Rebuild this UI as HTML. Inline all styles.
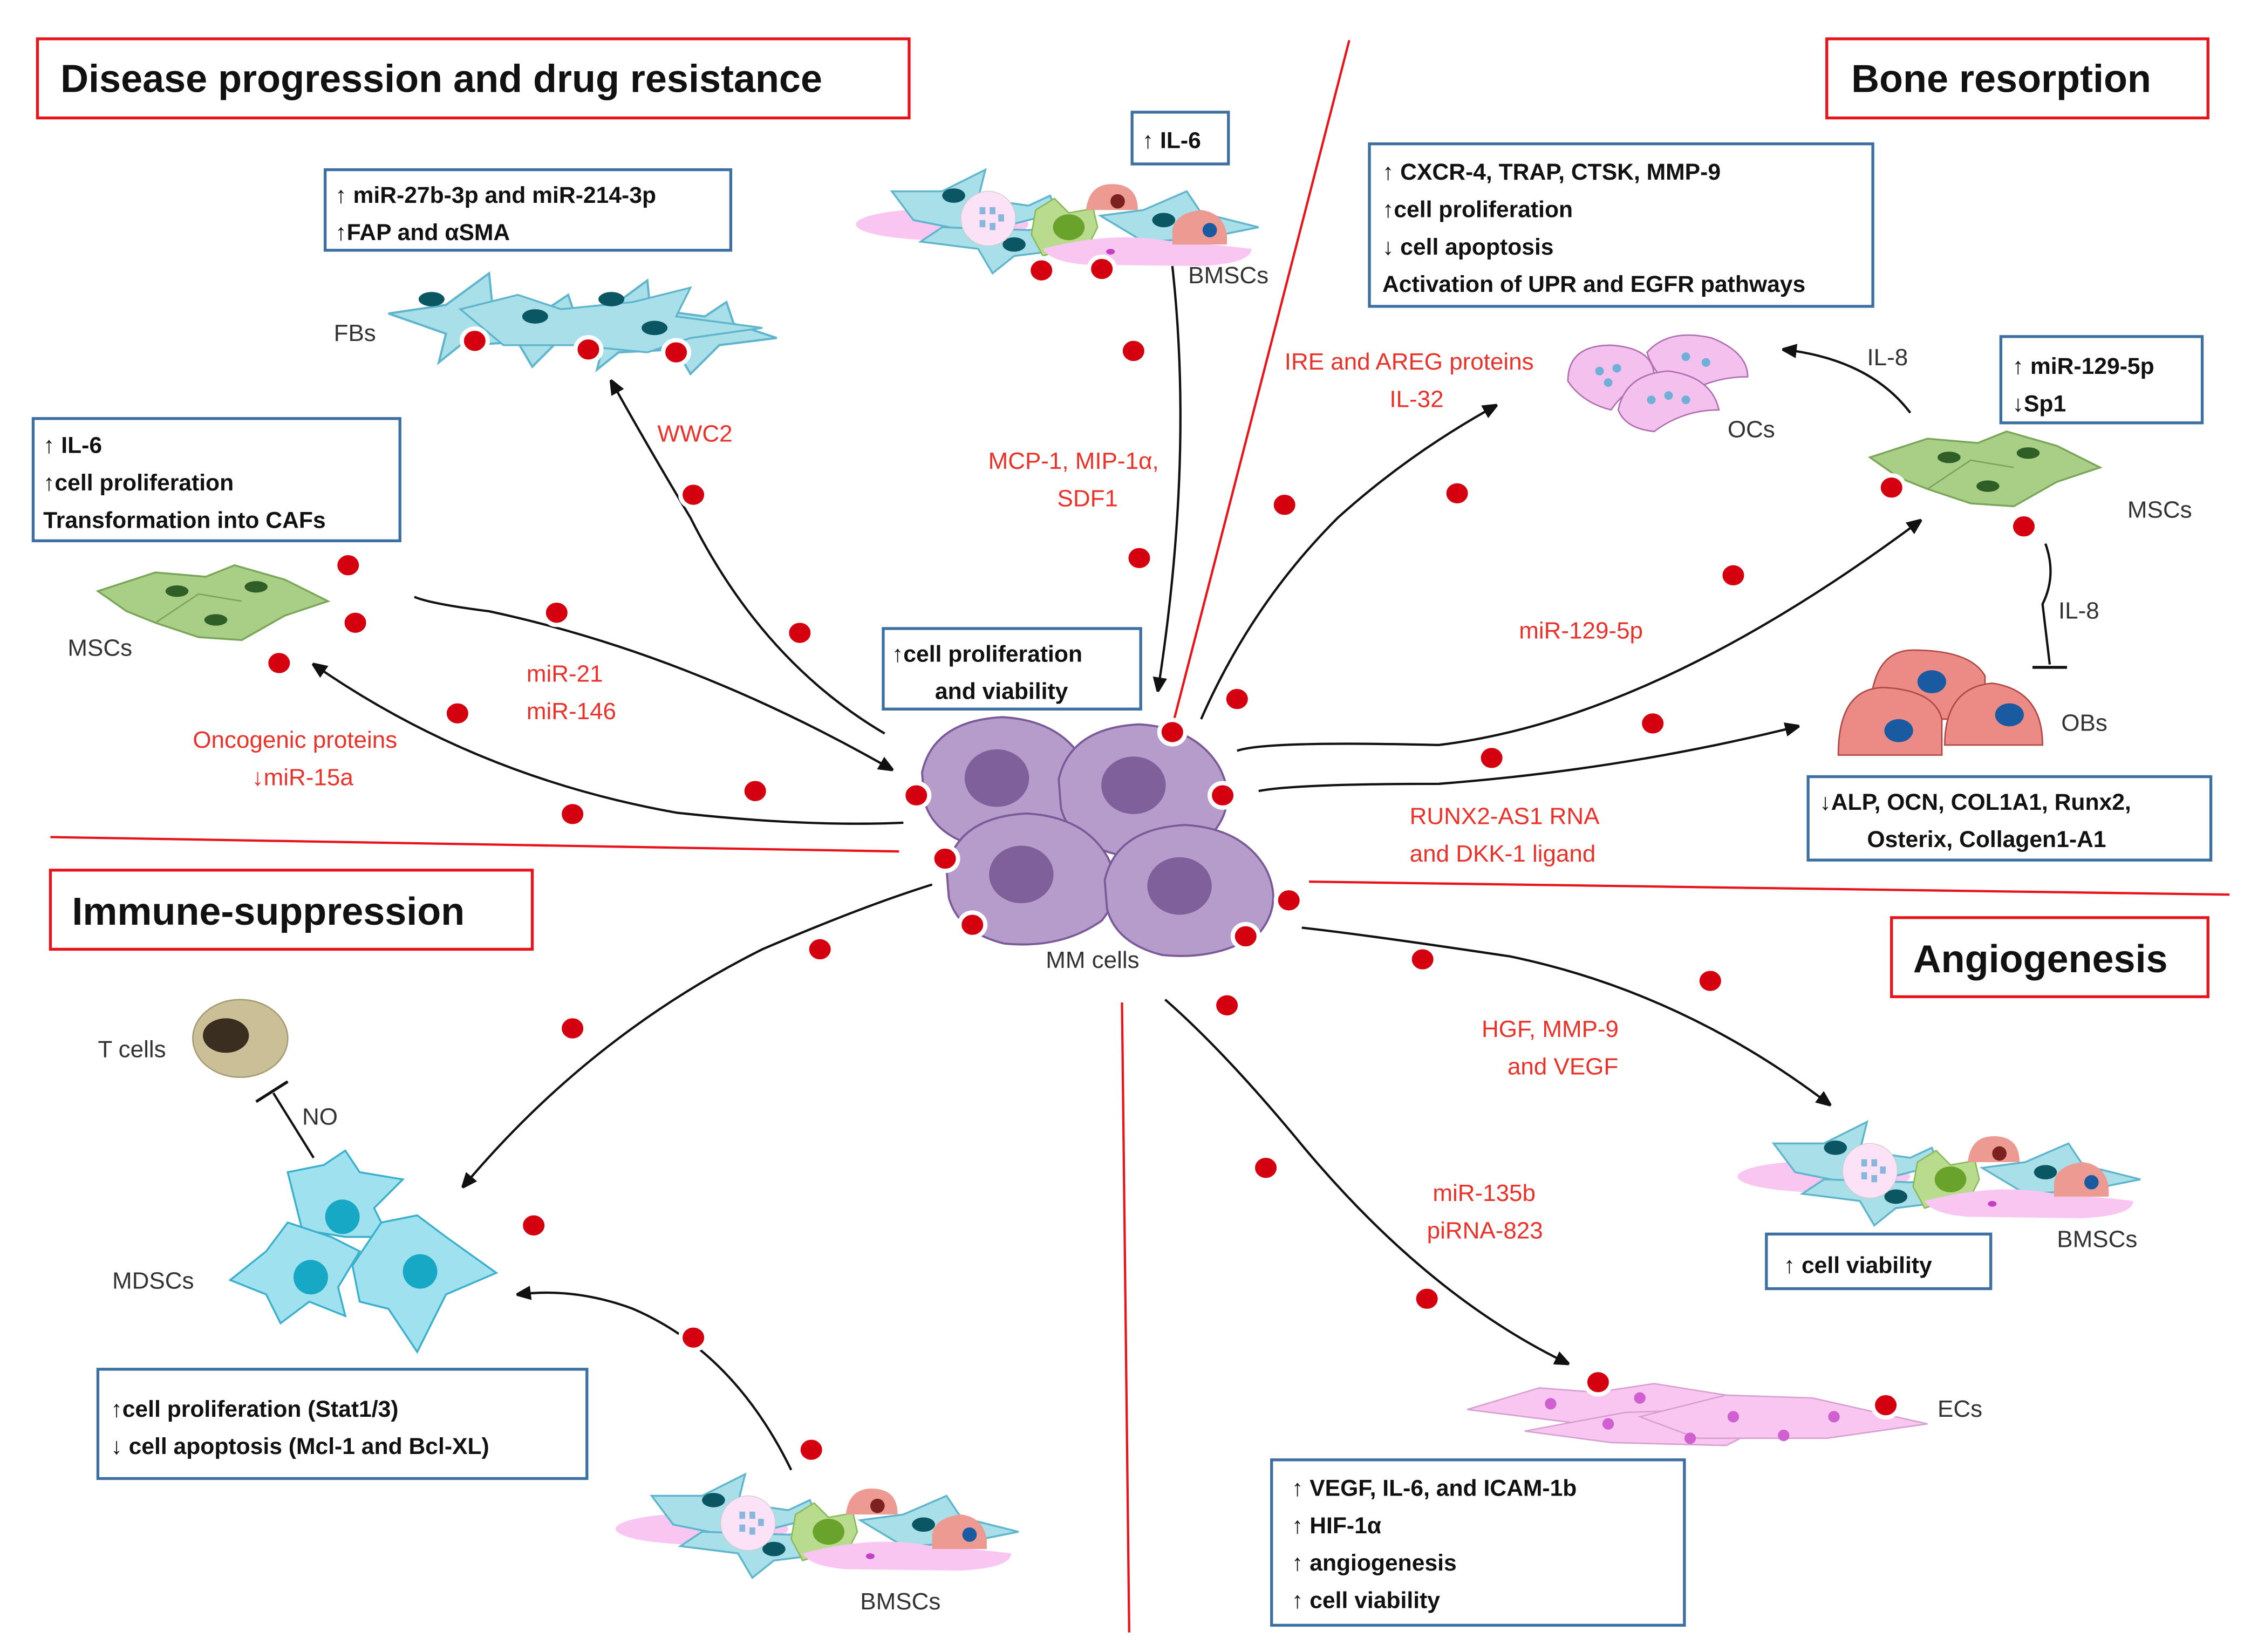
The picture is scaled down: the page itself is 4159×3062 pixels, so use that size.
<!DOCTYPE html>
<html><head><meta charset="utf-8"><style>
html,body{margin:0;padding:0;background:#fff}
svg{display:block}
text{font-family:"Liberation Sans",Arial,sans-serif}
.t{font-size:27px;font-weight:bold;fill:#111}
.b{font-size:16px;font-weight:bold;fill:#111}
.r{font-size:16.5px;fill:#e8322a}
.l{font-size:16.5px;fill:#333}
.rb{fill:#fff;stroke:#e8141c;stroke-width:2}
.bb{fill:#fff;stroke:#3d6fa3;stroke-width:2}
.ar{fill:none;stroke:#111;stroke-width:1.6;marker-end:url(#ah)}
.rl{stroke:#e8141c;stroke-width:1.6}
</style></head><body>
<svg width="4159" height="3062" viewBox="0 0 1560 1148.6" xmlns="http://www.w3.org/2000/svg">
<defs>
<marker id="ah" markerWidth="10" markerHeight="10" refX="9" refY="5" orient="auto" markerUnits="userSpaceOnUse"><path d="M0,0 L12,5 L0,10 z" fill="#111"/></marker>
<g id="dot"><ellipse rx="9" ry="8.5" fill="#d40010" stroke="#fff" stroke-width="3"/></g>
<g id="cy"><polygon points="0,28 40,22 70,0 72,20 110,25 125,15 130,30 160,40 120,45 100,65 90,48 50,50 35,62 40,42" fill="#a8dfe9" stroke="#5fb5cc" stroke-width="1.5"/></g>
<g id="bm">
<ellipse cx="60" cy="38" rx="60" ry="11" fill="#f9c6f2"/>
<polygon points="25,15 60,15 90,0 85,20 120,25 135,18 140,30 100,40 90,48 65,40 40,35" fill="#a8dfe9" stroke="#5fb5cc" stroke-width="1.3"/>
<polygon points="60,40 120,42 160,38 150,55 110,60 95,72 85,55 45,50" fill="#a8dfe9" stroke="#5fb5cc" stroke-width="1.3"/>
<polygon points="170,32 200,28 230,15 240,30 280,40 240,48 200,50" fill="#a8dfe9" stroke="#5fb5cc" stroke-width="1.3"/>
<ellipse cx="68" cy="18" rx="8" ry="5" fill="#0b5663"/>
<ellipse cx="110" cy="52" rx="8" ry="5" fill="#0b5663"/>
<ellipse cx="214" cy="35" rx="8" ry="5" fill="#0b5663"/>
<circle cx="92" cy="34" r="19" fill="#fbe2f7" stroke="#ccc" stroke-width="0.5"/>
<g fill="#89b6dc"><rect x="86" y="26" width="4" height="5"/><rect x="93" y="26" width="4" height="5"/><rect x="86" y="35" width="4" height="5"/><rect x="93" y="37" width="4" height="5"/><rect x="99" y="31" width="4" height="5"/></g>
<polygon points="125,28 138,20 148,30 165,27 168,40 162,52 145,55 130,60 122,45" fill="#b8db8e" stroke="#8aba5c" stroke-width="1"/>
<ellipse cx="148" cy="40" rx="11" ry="9" fill="#6aa32c"/>
<path d="M160,28 Q162,10 178,10 Q196,10 196,28 Z" fill="#ec9a92"/>
<circle cx="182" cy="22" r="5" fill="#7d2020"/>
<path d="M130,55 Q180,42 220,50 Q250,52 275,55 Q275,65 240,67 L160,66 Q135,64 130,55Z" fill="#f9c6f2"/>
<ellipse cx="177" cy="57" rx="3" ry="2" fill="#c33fc3"/>
<path d="M220,42 Q222,30 240,28 Q256,30 258,46 L258,52 L220,52Z" fill="#ec9a92"/>
<circle cx="246" cy="42" r="5" fill="#1a5aa0"/>
</g>
<g id="msc">
<polygon points="0,18 40,5 75,8 95,0 130,10 160,25 130,35 100,52 70,50 40,40 20,32" fill="#a9cf86" stroke="#7aa65a" stroke-width="1.3"/>
<path d="M40,40 L70,20 L100,25" fill="none" stroke="#7aa65a" stroke-width="1"/>
<ellipse cx="55" cy="18" rx="8" ry="4" fill="#2f5e26"/>
<ellipse cx="110" cy="15" rx="8" ry="4" fill="#2f5e26"/>
<ellipse cx="82" cy="38" rx="8" ry="4" fill="#2f5e26"/>
</g>
<g id="mm"><path d="M-80,-10 Q-70,-55 -10,-58 Q40,-55 60,-20 Q75,10 55,35 Q20,60 -30,55 Q-70,45 -78,15 Z" fill="#b59ccb" stroke="#7a5a99" stroke-width="1.8"/><ellipse cx="-15" cy="-5" rx="28" ry="25" fill="#80609b"/></g>
</defs>

<!-- section lines -->
<line class="rl" x1="35" y1="582" x2="625" y2="592"/>
<line class="rl" x1="938" y1="28" x2="815" y2="505"/>
<line class="rl" x1="910" y1="613" x2="1550" y2="622"/>
<line class="rl" x1="780" y1="697" x2="785" y2="1135"/>

<!-- titles -->
<rect class="rb" x="26" y="27" width="606" height="55"/><text class="t" x="42" y="64">Disease progression and drug resistance</text>
<rect class="rb" x="1270" y="27" width="265" height="55"/><text class="t" x="1287" y="64">Bone resorption</text>
<rect class="rb" x="35" y="605" width="335" height="55"/><text class="t" x="50" y="643">Immune-suppression</text>
<rect class="rb" x="1315" y="638" width="220" height="55"/><text class="t" x="1330" y="676">Angiogenesis</text>

<!-- blue boxes -->
<rect class="bb" x="226" y="118" width="282" height="56"/><text class="b" x="233" y="141">↑ miR-27b-3p and miR-214-3p</text><text class="b" x="233" y="167">↑FAP and αSMA</text>
<rect class="bb" x="787" y="78" width="67" height="36"/><text class="b" x="794" y="103">↑ IL-6</text>
<rect class="bb" x="952" y="100" width="350" height="113"/><text class="b" x="961" y="125">↑ CXCR-4, TRAP, CTSK, MMP-9</text><text class="b" x="961" y="151">↑cell proliferation</text><text class="b" x="961" y="177">↓ cell apoptosis</text><text class="b" x="961" y="203">Activation of UPR and EGFR pathways</text>
<rect class="bb" x="1391" y="234" width="140" height="60"/><text class="b" x="1399" y="260">↑ miR-129-5p</text><text class="b" x="1399" y="286">↓Sp1</text>
<rect class="bb" x="23" y="291" width="255" height="85"/><text class="b" x="30" y="315">↑ IL-6</text><text class="b" x="30" y="341">↑cell proliferation</text><text class="b" x="30" y="367">Transformation into CAFs</text>
<rect class="bb" x="614" y="437" width="179" height="56"/><text class="b" x="620" y="460">↑cell proliferation</text><text class="b" x="650" y="486">and viability</text>
<rect class="bb" x="1257" y="540" width="280" height="58"/><text class="b" x="1265" y="563">↓ALP, OCN, COL1A1, Runx2,</text><text class="b" x="1298" y="589">Osterix, Collagen1-A1</text>
<rect class="bb" x="1228" y="858" width="156" height="38"/><text class="b" x="1240" y="885">↑ cell viability</text>
<rect class="bb" x="68" y="952" width="340" height="76"/><text class="b" x="77" y="985">↑cell proliferation (Stat1/3)</text><text class="b" x="77" y="1011">↓ cell apoptosis (Mcl-1 and Bcl-XL)</text>
<rect class="bb" x="884" y="1015" width="287" height="115"/><text class="b" x="898" y="1040">↑ VEGF, IL-6, and ICAM-1b</text><text class="b" x="898" y="1066">↑ HIF-1α</text><text class="b" x="898" y="1092">↑ angiogenesis</text><text class="b" x="898" y="1118">↑ cell viability</text>

<!-- cell groups -->
<use href="#bm" x="595" y="118"/>
<use href="#bm" x="1208" y="780"/>
<use href="#bm" x="428" y="1025"/>
<!-- FBs -->
<use href="#cy" x="270" y="190"/><use href="#cy" x="380" y="195"/>
<polygon points="320,215 360,205 390,215 440,210 480,200 470,220 530,228 480,235 450,245 400,240 350,240" fill="#a8dfe9" stroke="#5fb5cc" stroke-width="1.3"/>
<ellipse cx="300" cy="208" rx="9" ry="5" fill="#0b5663"/><ellipse cx="372" cy="220" rx="9" ry="5" fill="#0b5663"/><ellipse cx="425" cy="208" rx="9" ry="5" fill="#0b5663"/><ellipse cx="455" cy="228" rx="9" ry="5" fill="#0b5663"/>
<!-- MSCs -->
<use href="#msc" x="68" y="393"/>
<use href="#msc" x="1300" y="300"/>
<!-- OCs -->
<g fill="#f4c0ee" stroke="#b070b0" stroke-width="1">
<path d="M1090,265 Q1090,240 1120,240 Q1150,242 1150,262 Q1130,270 1120,285 Q1100,280 1090,265Z"/>
<path d="M1145,245 Q1160,228 1190,235 Q1215,245 1215,262 Q1190,262 1170,275 Q1150,262 1145,245Z"/>
<path d="M1125,285 Q1130,260 1160,258 Q1190,262 1195,285 Q1170,285 1150,300 Q1130,298 1125,285Z"/>
</g>
<g fill="#6fb0d8"><circle cx="1112" cy="258" r="3"/><circle cx="1124" cy="256" r="3"/><circle cx="1118" cy="266" r="3"/><circle cx="1172" cy="248" r="3"/><circle cx="1186" cy="252" r="3"/><circle cx="1160" cy="275" r="3"/><circle cx="1172" cy="278" r="3"/><circle cx="1148" cy="278" r="3"/></g>
<!-- OBs -->
<g fill="#ec8a86" stroke="#b04848" stroke-width="1">
<path d="M1300,500 Q1300,452 1330,452 Q1370,452 1380,470 L1380,500Z"/>
<path d="M1278,525 Q1278,478 1310,478 Q1345,480 1350,500 L1350,525Z"/>
<path d="M1352,518 Q1352,478 1385,475 Q1420,480 1420,518Z"/>
</g>
<g fill="#1a5aa0"><ellipse cx="1343" cy="474" rx="10" ry="8"/><ellipse cx="1320" cy="508" rx="10" ry="8"/><ellipse cx="1397" cy="497" rx="10" ry="8"/></g>
<!-- T cell -->
<ellipse cx="167" cy="722" rx="33" ry="27" fill="#cbbf98" stroke="#a89c74"/><ellipse cx="157" cy="720" rx="16" ry="12" fill="#3a2e20"/>
<!-- MDSCs -->
<g fill="#9fe1ee" stroke="#3ab0cc" stroke-width="1.3">
<polygon points="200,815 225,810 240,800 250,815 280,820 260,840 270,860 240,860 210,855 205,835"/>
<polygon points="160,890 185,870 200,850 230,860 250,870 235,895 240,915 215,905 195,920 185,900"/>
<polygon points="245,880 265,850 290,845 310,860 345,885 310,900 290,940 270,910 250,905"/>
</g>
<g fill="#16a8c4"><circle cx="238" cy="846" r="12"/><circle cx="216" cy="888" r="12"/><circle cx="292" cy="884" r="12"/></g>
<!-- ECs -->
<g fill="#f9c6f2" stroke="#d7a0d0" stroke-width="1">
<polygon points="1020,980 1070,965 1110,968 1150,962 1200,970 1180,985 1100,990"/>
<polygon points="1060,995 1130,982 1190,980 1230,990 1200,1005 1120,1003"/>
<polygon points="1140,985 1200,970 1260,972 1340,990 1270,1000 1180,1000"/>
</g>
<g fill="#d060d0"><circle cx="1078" cy="976" r="4"/><circle cx="1140" cy="972" r="4"/><circle cx="1118" cy="990" r="4"/><circle cx="1205" cy="985" r="4"/><circle cx="1240" cy="998" r="4"/><circle cx="1275" cy="985" r="4"/><circle cx="1175" cy="1000" r="4"/></g>

<!-- MM cells -->
<use href="#mm" transform="translate(705,545) scale(0.8)"/>
<use href="#mm" transform="translate(800,550) scale(0.8)"/>
<use href="#mm" transform="translate(722,612) scale(0.8)"/>
<use href="#mm" transform="translate(832,620) scale(0.8)"/>

<!-- arrows -->
<path class="ar" d="M615,510 Q530,460 480,360 Q450,310 425,265"/>
<path class="ar" d="M288,415 Q300,420 340,425 Q480,455 620,535"/>
<path class="ar" d="M628,572 Q560,575 470,565 Q330,540 218,462"/>
<path class="ar" d="M815,185 Q830,320 805,480"/>
<path class="ar" d="M835,500 Q870,420 930,360 Q980,315 1040,282"/>
<path class="ar" d="M1328,287 Q1300,250 1240,243"/>
<path class="ar" d="M860,522 Q880,515 1000,518 Q1150,500 1335,362"/>
<path d="M1422,378 Q1430,400 1420,420 L1425,462" fill="none" stroke="#111" stroke-width="1.6"/><line x1="1413" y1="464" x2="1437" y2="464" stroke="#111" stroke-width="2"/>
<path class="ar" d="M875,550 Q900,545 1000,545 Q1130,535 1250,505"/>
<path class="ar" d="M905,645 Q950,650 1050,665 Q1170,690 1272,768"/>
<path class="ar" d="M810,695 Q850,730 900,790 Q990,900 1090,948"/>
<path class="ar" d="M648,615 Q600,630 530,660 Q410,720 322,825"/>
<path class="ar" d="M550,1022 Q510,940 440,910 Q400,895 360,900"/>
<path d="M218,805 L190,760" fill="none" stroke="#111" stroke-width="1.6"/><line x1="178" y1="766" x2="200" y2="752" stroke="#111" stroke-width="2"/>

<!-- dots -->
<g>
<use href="#dot" x="724" y="188"/><use href="#dot" x="766" y="187"/><use href="#dot" x="788" y="244"/><use href="#dot" x="792" y="388"/>
<use href="#dot" x="330" y="237"/><use href="#dot" x="409" y="243"/><use href="#dot" x="470" y="245"/>
<use href="#dot" x="482" y="344"/><use href="#dot" x="556" y="440"/>
<use href="#dot" x="242" y="393"/><use href="#dot" x="247" y="433"/><use href="#dot" x="194" y="461"/>
<use href="#dot" x="387" y="426"/><use href="#dot" x="318" y="496"/><use href="#dot" x="525" y="550"/><use href="#dot" x="398" y="566"/>
<use href="#dot" x="637" y="553"/><use href="#dot" x="657" y="597"/><use href="#dot" x="676" y="643"/><use href="#dot" x="815" y="509"/><use href="#dot" x="850" y="553"/><use href="#dot" x="896" y="626"/><use href="#dot" x="866" y="651"/>
<use href="#dot" x="860" y="486"/><use href="#dot" x="893" y="351"/><use href="#dot" x="1013" y="343"/>
<use href="#dot" x="1315" y="339"/><use href="#dot" x="1407" y="366"/><use href="#dot" x="1205" y="400"/>
<use href="#dot" x="1149" y="503"/><use href="#dot" x="1037" y="527"/>
<use href="#dot" x="989" y="667"/><use href="#dot" x="1189" y="682"/><use href="#dot" x="853" y="699"/>
<use href="#dot" x="880" y="812"/><use href="#dot" x="992" y="903"/><use href="#dot" x="1111" y="961"/><use href="#dot" x="1311" y="977"/>
<use href="#dot" x="570" y="660"/><use href="#dot" x="398" y="715"/><use href="#dot" x="371" y="852"/><use href="#dot" x="482" y="930"/><use href="#dot" x="564" y="1008"/>
</g>

<!-- labels -->
<text class="l" x="826" y="197">BMSCs</text>
<text class="l" x="232" y="237">FBs</text>
<text class="l" x="47" y="456">MSCs</text>
<text class="l" x="1479" y="360">MSCs</text>
<text class="l" x="1201" y="304">OCs</text>
<text class="l" x="1433" y="508">OBs</text>
<text class="l" x="727" y="673">MM cells</text>
<text class="l" x="68" y="735">T cells</text>
<text class="l" x="210" y="782">NO</text>
<text class="l" x="78" y="896">MDSCs</text>
<text class="l" x="1430" y="867">BMSCs</text>
<text class="l" x="1347" y="985">ECs</text>
<text class="l" x="598" y="1119">BMSCs</text>
<text class="l" x="1298" y="254">IL-8</text>
<text class="l" x="1431" y="430">IL-8</text>

<text class="r" x="457" y="307">WWC2</text>
<text class="r" x="687" y="326">MCP-1, MIP-1α,</text>
<text class="r" x="735" y="352">SDF1</text>
<text class="r" x="893" y="257">IRE and AREG proteins</text>
<text class="r" x="966" y="283">IL-32</text>
<text class="r" x="366" y="474">miR-21</text>
<text class="r" x="366" y="500">miR-146</text>
<text class="r" x="134" y="520">Oncogenic proteins</text>
<text class="r" x="175" y="546">↓miR-15a</text>
<text class="r" x="1056" y="444">miR-129-5p</text>
<text class="r" x="980" y="573">RUNX2-AS1 RNA</text>
<text class="r" x="980" y="599">and DKK-1 ligand</text>
<text class="r" x="1030" y="721">HGF, MMP-9</text>
<text class="r" x="1048" y="747">and VEGF</text>
<text class="r" x="996" y="835">miR-135b</text>
<text class="r" x="992" y="861">piRNA-823</text>
</svg>
</body></html>
